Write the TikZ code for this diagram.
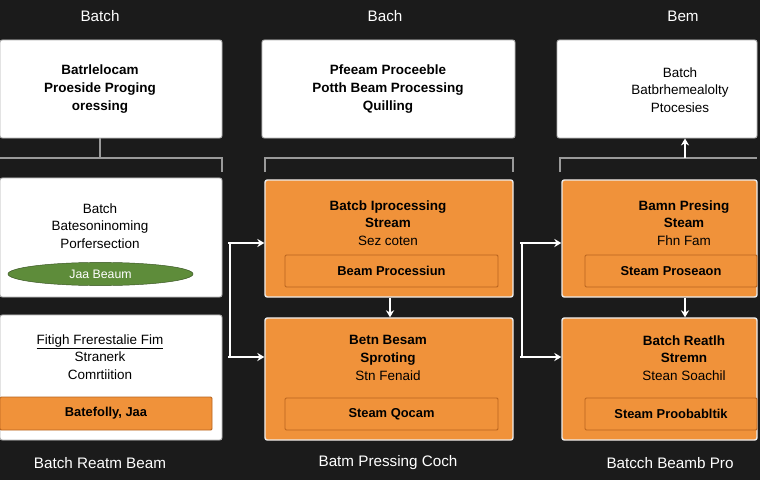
\documentclass[tikz,border=0pt]{standalone}
\usepackage{fontspec}
\setmainfont{Liberation Sans}
\usetikzlibrary{arrows.meta,shapes.geometric}
\definecolor{bg}{HTML}{1B1B1B}
\definecolor{orng}{HTML}{F0923A}
\definecolor{orngdark}{HTML}{B8641E}
\definecolor{grn}{HTML}{5E8C3A}
\definecolor{wire}{HTML}{9A9A9A}
\tikzset{
  wbox/.style={draw=gray!60,fill=white,rounded corners=2pt,line width=0.8pt},
  obox/.style={draw=white!85!gray,fill=orng,rounded corners=2pt,line width=1.2pt},
  ibox/.style={draw=orngdark,fill=orng,rounded corners=1pt,line width=0.8pt,
    font=\bfseries\fontsize{11}{13}\selectfont},
  txt/.style={align=center,font=\bfseries\fontsize{11.5}{15}\selectfont},
  head/.style={text=white,font=\fontsize{13}{15}\selectfont},
  wire/.style={draw=wire,line width=1.2pt},
  arr/.style={draw=white,line width=1.4pt,-{Stealth[length=6pt,width=7pt]}}
}
\begin{document}
\begin{tikzpicture}[x=0.03cm,y=-0.03cm]
\fill[bg] (0,0) rectangle (760,480);
\useasboundingbox (0,0) rectangle (760,480);
% headers
\node[head] (h1) at (100,16) {Batch};
\node[head] (h2) at (385,16) {Bach};
\node[head] (h3) at (683,16) {Bem};
% top row
\node[wbox,minimum width=6.66cm,minimum height=2.94cm] (t1) at (111,89) {};
\node[wbox,minimum width=7.59cm,minimum height=2.94cm] (t2) at (388.5,89) {};
\node[wbox,minimum width=6.0cm,minimum height=2.94cm] (t3) at (657,89) {};
\node[txt] at (100,89) {Batrlelocam\\Proeside Proging\\oressing};
\node[txt] at (388,89) {Pfeeam Proceeble\\Potth Beam Processing\\Quilling};
\node[txt,font=\fontsize{11.5}{15}\selectfont] at (680,90) {Batch\\Batbrhemealolty\\Ptocesies};
% middle row
\node[wbox,minimum width=6.66cm,minimum height=3.57cm] (m1) at (111,237.5) {};
\node[obox,minimum width=7.44cm,minimum height=3.51cm] (m2) at (389,238.5) {};
\node[obox,minimum width=5.85cm,minimum height=3.51cm] (m3) at (659.5,238.5) {};
\node[txt,font=\fontsize{11.5}{15}\selectfont] at (100,226) {Batch\\Batesoninoming\\Porfersection};
\node[draw=grn!60!black,fill=grn,ellipse,minimum width=5.55cm,minimum height=0.66cm,
  text=white,font=\fontsize{10.5}{12}\selectfont] (e1) at (100.5,274) {Jaa Beaum};
\node[txt] at (388,223) {Batcb Iprocessing\\Stream\\{\mdseries Sez coten}};
\node[txt] at (684,223) {Bamn Presing\\Steam\\{\mdseries Fhn Fam}};
\node[ibox,minimum width=6.39cm,minimum height=0.96cm] (i2) at (391.5,271) {Beam Processiun};
\node[ibox,minimum width=5.16cm,minimum height=0.96cm] (i3) at (671,271) {Steam Proseaon};
% bottom row
\node[wbox,minimum width=6.66cm,minimum height=3.75cm] (b1) at (111,377.5) {};
\node[obox,minimum width=7.44cm,minimum height=3.66cm] (b2) at (389,379) {};
\node[obox,minimum width=5.85cm,minimum height=3.66cm] (b3) at (659.5,379) {};
\node[txt,font=\fontsize{11.5}{15}\selectfont] at (100,357) {\underline{Fitigh Frerestalie Fim}\\Stranerk\\Comrtiition};
\node[txt] at (388,358) {Betn Besam\\Sproting\\{\mdseries Stn Fenaid}};
\node[txt] at (684,358) {Batch Reatlh\\Stremn\\{\mdseries Stean Soachil}};
\node[ibox,minimum width=6.36cm,minimum height=0.99cm] (i1) at (106,413.5) {Batefolly, Jaa};
\node[ibox,minimum width=6.39cm,minimum height=0.96cm] (i4) at (391.5,414) {Steam Qocam};
\node[ibox,minimum width=5.16cm,minimum height=0.96cm] (i5) at (671,414) {Steam Proobabltik};
% bottom labels
\node[head] (f1) at (100,463) {Batch Reatm Beam};
\node[head] (f2) at (388,463) {Batm Pressing Coch};
\node[head] (f3) at (670,463) {Batcch Beamb Pro};
% wiring
\coordinate (k1) at (0,158); \coordinate (k2) at (222,158);
\draw[wire] (t1.south -| 100,0) -- (100,158);
\draw[wire] (k1) -- (k2) -- (222,172);
\draw[wire] (265,172) -- (265,158) -- (513,158) -- (513,172);
\draw[wire] (560,172) -- (560,158) -- (757,158);
\draw[arr] (685,158) -- (t3.south -| 685,0);
\draw[wire,draw=white] (230,243) -- (230,357);
\draw[arr] (228,243) -- (m2.west |- 0,243);
\draw[arr] (228,357) -- (b2.west |- 0,357);
\draw[wire,draw=white] (522,243) -- (522,357);
\draw[arr] (520,243) -- (m3.west |- 0,243);
\draw[arr] (520,357) -- (b3.west |- 0,357);
\draw[arr] (m2.south -| 390,0) -- (b2.north -| 390,0);
\draw[arr] (m3.south -| 685,0) -- (b3.north -| 685,0);
\end{tikzpicture}
\end{document}
